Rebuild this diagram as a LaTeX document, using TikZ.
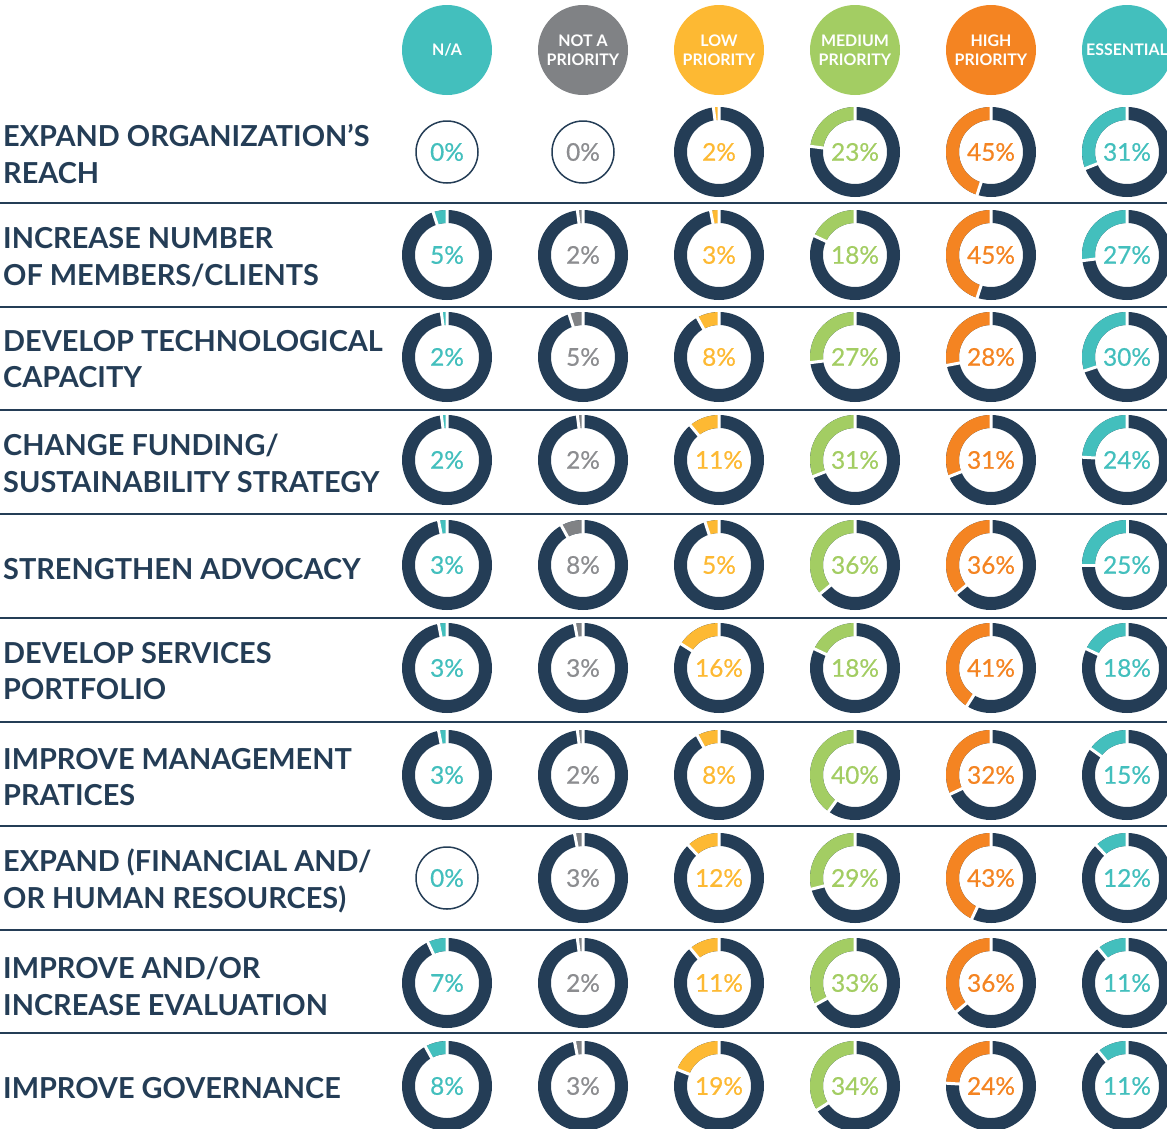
\documentclass[tikz,border=0pt]{standalone}
\usepackage{fontspec}
\setmainfont{Lato}
\newfontfamily\pctfont{Lato}[FakeBold=0.6]
\usetikzlibrary{positioning}

\definecolor{ringblue}{HTML}{243D56}
\definecolor{natext}{HTML}{43BFBD}
\definecolor{notgrey}{HTML}{808285}
\definecolor{notgreytext}{HTML}{8C8D90}
\definecolor{lowyellow}{HTML}{FDB933}
\definecolor{medgreen}{HTML}{A3CD63}
\definecolor{highorange}{HTML}{F48422}

\tikzset{
  head/.style={circle,minimum size=90bp,inner sep=0pt,text=white,align=center,
    font=\fontsize{16}{19}\selectfont\bfseries},
  lab/.style={anchor=west,align=left,inner sep=0pt,text=ringblue,
    font=\fontsize{29}{37}\selectfont\bfseries},
  pct/.style={inner sep=0pt,font=\fontsize{24.5}{24}\selectfont\pctfont},
  sepline/.style={draw=ringblue,line width=2.2bp}
}

\newcommand{\donut}[6]{%
  \ifnum#6=0\relax
    \draw[ringblue,line width=1.5bp] (#2,#3) circle (31bp);
  \else
    \fill[ringblue,even odd rule] (#2,#3) circle (45bp) circle (32bp);
    \pgfmathsetmacro\endang{90+3.6*#6}
    \fill[#4] ([shift={(#2,#3)}]90:45bp) arc[start angle=90,end angle=\endang,radius=45bp]
      -- ([shift={(#2,#3)}]\endang:32bp) arc[start angle=\endang,end angle=90,radius=32bp] -- cycle;
    \draw[white,line width=3bp] ([shift={(#2,#3)}]90:30bp) -- ([shift={(#2,#3)}]90:47bp)
      ([shift={(#2,#3)}]\endang:30bp) -- ([shift={(#2,#3)}]\endang:47bp);
  \fi
  \node[pct,text=#5] (#1) at (#2,#3) {#6\%};
}

\begin{document}
\begin{tikzpicture}[x=1bp,y=1bp]
  \useasboundingbox (0,0) rectangle (1167,-1129);
  \clip (0,0) rectangle (1167,-1129);

  \node[head,fill=natext] (NA) at (447,-50) {N/A};
  \node[head,fill=notgrey] (NotPrio) at (583,-50) {NOT A\\PRIORITY};
  \node[head,fill=lowyellow] (LowPrio) at (719,-50) {LOW\\PRIORITY};
  \node[head,fill=medgreen] (MedPrio) at (855,-50) {MEDIUM\\PRIORITY};
  \node[head,fill=highorange] (HighPrio) at (991,-50) {HIGH\\PRIORITY};
  \node[head,fill=natext] (Essential) at (1127,-50) {ESSENTIAL};

  \node[lab] (Reach) at (3,-154) {EXPAND ORGANIZATION’S\\REACH};
  \node[lab] (Members) at (3,-257) {INCREASE NUMBER\\OF MEMBERS/CLIENTS};
  \node[lab] (Tech) at (3,-359) {DEVELOP TECHNOLOGICAL\\CAPACITY};
  \node[lab] (Funding) at (3,-463) {CHANGE FUNDING/\\SUSTAINABILITY STRATEGY};
  \node[lab] (Advocacy) at (3,-569) {STRENGTHEN ADVOCACY};
  \node[lab] (Services) at (3,-671) {DEVELOP SERVICES\\PORTFOLIO};
  \node[lab] (Management) at (3,-777) {IMPROVE MANAGEMENT\\PRATICES};
  \node[lab] (Resources) at (3,-881) {EXPAND (FINANCIAL AND/\\OR HUMAN RESOURCES)};
  \node[lab] (Evaluation) at (3,-986) {IMPROVE AND/OR\\INCREASE EVALUATION};
  \node[lab] (Governance) at (3,-1088) {IMPROVE GOVERNANCE};

  \foreach \ly in {203,307,410,514,618,722,826,930,1033}
    \draw[sepline] (0,-\ly) -- (1167,-\ly);

  \foreach \ry/\na/\np/\lo/\me/\hi/\es [count=\r] in
    {152/0/0/2/23/45/31, 255/5/2/3/18/45/27, 357/2/5/8/27/28/30,
     460/2/2/11/31/31/24, 565/3/8/5/36/36/25, 668/3/3/16/18/41/18,
     775/3/2/8/40/32/15, 878/0/3/12/29/43/12, 983/7/2/11/33/36/11,
     1086/8/3/19/34/24/11}
  {
    \donut{r\r-na}{447}{-\ry}{natext}{natext}{\na}
    \donut{r\r-np}{583}{-\ry}{notgrey}{notgreytext}{\np}
    \donut{r\r-lo}{719}{-\ry}{lowyellow}{lowyellow}{\lo}
    \donut{r\r-me}{855}{-\ry}{medgreen}{medgreen}{\me}
    \donut{r\r-hi}{991}{-\ry}{highorange}{highorange}{\hi}
    \donut{r\r-es}{1127}{-\ry}{natext}{natext}{\es}
  }
\end{tikzpicture}
\end{document}
